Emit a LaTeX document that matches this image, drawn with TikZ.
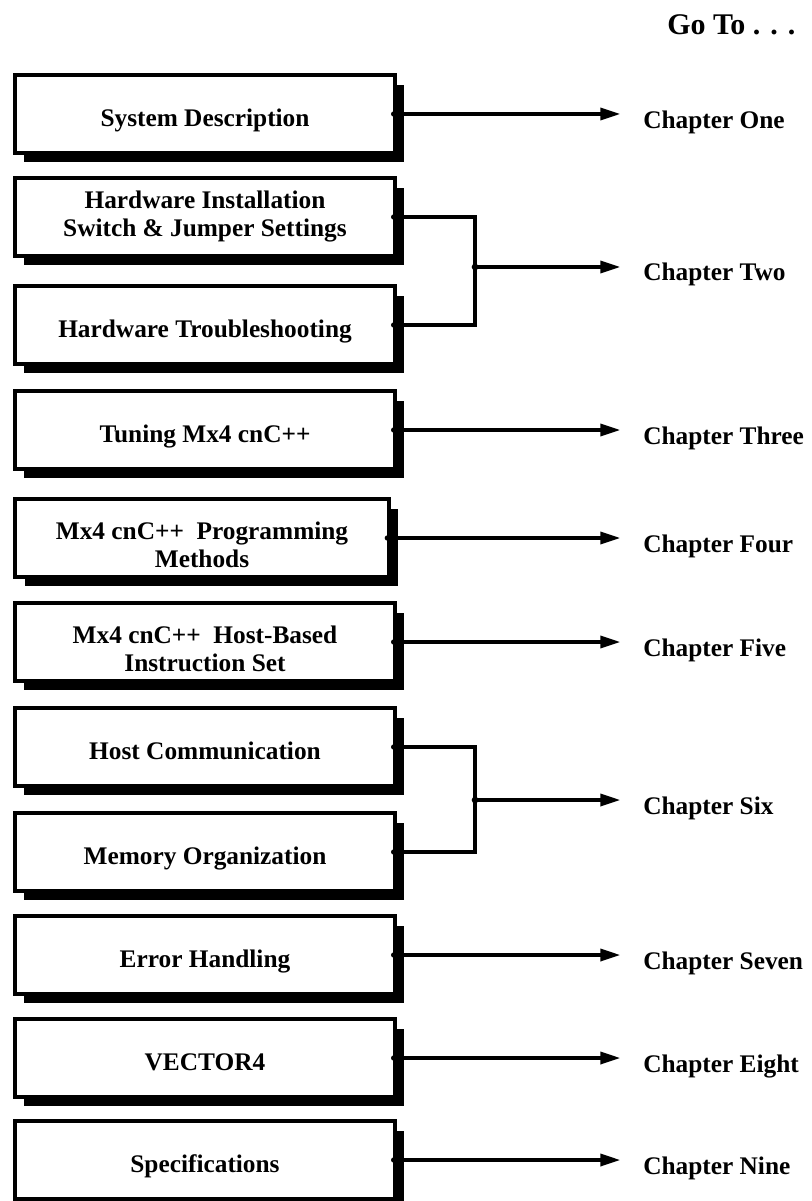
\documentclass[tikz,border=0pt]{standalone}
\usepackage{fontspec}
\setmainfont{Liberation Serif}
\usetikzlibrary{arrows.meta,shadows}

\begin{document}
\begin{tikzpicture}[x=0.75pt,y=-0.75pt,>={Triangle[length=15pt,width=9pt]},
  font=\fontsize{19}{21}\selectfont\bfseries,
  secbox/.style={draw,line width=3pt,fill=white,minimum width=285pt,minimum height=58pt,
    align=center,inner sep=0pt,
    drop shadow={shadow xshift=7pt,shadow yshift=-7pt,fill=black,opacity=1}},
  onebox/.style={secbox,text height=18.5pt,text depth=0pt},
  twobox/.style={secbox,text height=44pt,text depth=0pt},
  chap/.style={anchor=base west,inner sep=0pt},
  link/.style={line width=2.6pt},
  tap/.style={circle,fill=black,inner sep=0pt,minimum size=5pt}]
  \useasboundingbox (0,0) rectangle (812,1201);

  \node[anchor=west,inner sep=0pt,font=\fontsize{22.5}{25}\selectfont\bfseries] (goto) at (667,25) {Go To . . .};

  % left column
  \node[onebox] (sysdesc) at (205,114) {System Description};
  \node[secbox] (hwinst) at (205,217) {Hardware Installation\\Switch \& Jumper Settings};
  \node[onebox] (hwtrbl) at (205,325) {Hardware Troubleshooting};
  \node[onebox] (tuning) at (205,430) {Tuning Mx4 cnC++};
  \node[twobox,minimum width=280pt] (progmeth) at (202,538) {Mx4 cnC++~~Programming\\Methods};
  \node[twobox] (hostinst) at (205,642) {Mx4 cnC++~~Host-Based\\Instruction Set};
  \node[onebox] (hostcomm) at (205,747) {Host Communication};
  \node[onebox] (memorg) at (205,852) {Memory Organization};
  \node[onebox] (errhand) at (205,955) {Error Handling};
  \node[onebox] (vector) at (205,1058) {VECTOR4};
  \node[onebox] (specs) at (205,1160) {Specifications};

  % right column
  \node[chap] (ch1) at (643,129) {Chapter One};
  \node[chap] (ch2) at (643,281) {Chapter Two};
  \node[chap] (ch3) at (643,444) {Chapter Three};
  \node[chap] (ch4) at (643,552) {Chapter Four};
  \node[chap] (ch5) at (643,656) {Chapter Five};
  \node[chap] (ch6) at (643,814) {Chapter Six};
  \node[chap] (ch7) at (643,969) {Chapter Seven};
  \node[chap] (ch8) at (643,1072) {Chapter Eight};
  \node[chap] (ch9) at (643,1174) {Chapter Nine};

  \coordinate (jtwo) at (475,267);
  \coordinate (jsix) at (475,800);

  % single links
  \foreach \src/\dst in {sysdesc/ch1,tuning/ch3,progmeth/ch4,hostinst/ch5,errhand/ch7,vector/ch8,specs/ch9}{
    \draw[link,->,shorten >=17pt] (\src.east) -- (\src.east -| \dst.west);
    \node[tap,minimum size=4pt] at ([xshift=-2.5pt]\src.east) {};
  }

  % joined links
  \draw[link] (hwinst.east) -| (jtwo) |- (hwtrbl.east);
  \draw[link,->,shorten >=17pt] (jtwo) -- (jtwo -| ch2.west);
  \draw[link] (hostcomm.east) -| (jsix) |- (memorg.east);
  \draw[link,->,shorten >=17pt] (jsix) -- (jsix -| ch6.west);
  \foreach \src in {hwinst,hwtrbl,hostcomm,memorg}
    \node[tap,minimum size=4pt] at ([xshift=-2.5pt]\src.east) {};
  \node[tap] at (jtwo) {};
  \node[tap] at (jsix) {};
\end{tikzpicture}
\end{document}
